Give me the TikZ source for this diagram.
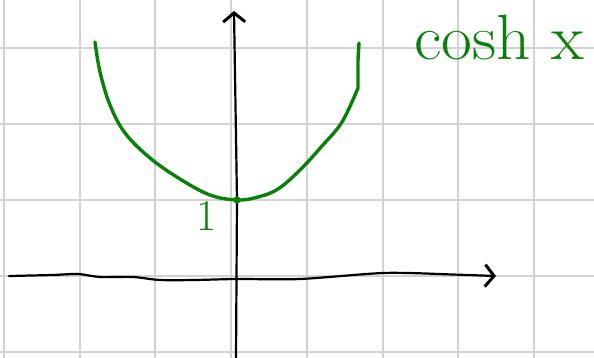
\documentclass[tikz,border=0pt]{standalone}
\usepackage{fontspec}
\usepackage{tikz}
\usetikzlibrary{arrows.meta}
\definecolor{penGreen}{RGB}{10,128,10}
\definecolor{gridGray}{RGB}{210,210,210}

\begin{document}
\begin{tikzpicture}[x=1pt, y=-1pt, line cap=round, line join=round,
    gridline/.style={gridGray, line width=2pt},
    axis/.style={black, line width=2.2pt},
    tip/.style={-{Straight Barb[length=9pt, width=22pt, line width=3pt]}},
    pen/.style={penGreen, line width=3.4pt}]
    \useasboundingbox (0,0) rectangle (594,358);
    % Grid
    \foreach \gx in {0,...,7}
        \draw[gridline] ({4+75.7*\gx},0) -- ({4+75.7*\gx},358);
    \foreach \gy in {0,...,4}
        \draw[gridline] (0,{48+76*\gy}) -- (594,{48+76*\gy});
    % Axes
    \coordinate (xstart) at (9,276);
    \coordinate (xend) at (496,276);
    \coordinate (ystart) at (236,358);
    \coordinate (yend) at (234,11);
    \draw[axis, tip] (xstart) plot[smooth, tension=0.5] coordinates {(9,276) (52,275) (78,274) (100,277) (133,277) (160,280) (195,280) (237,279) (300,279) (383,273) (438,274)} -- (xend);
    \draw[axis, tip] (ystart) -- (237,200) -- (yend);
    % cosh curve
    \draw[pen] plot[smooth, tension=0.6] coordinates {(95,42) (100,72) (110,105) (125,133) (150,158) (180,179) (210,195) (237,200) (258,197) (278,189) (300,170) (322,146) (342,122) (358,88)} -- (358,60) -- (359,43);
    \fill[penGreen] (237,200) circle (3.6pt) coordinate (one);
    \node[penGreen, font=\fontsize{44}{44}\selectfont, anchor=base] (onelabel) at (207,230) {1};
    \node[penGreen, font=\fontsize{64}{66}\selectfont, anchor=base] (coshlabel) at (499,60) {\scalebox{1.05}[1]{cosh x}};
\end{tikzpicture}
\end{document}
